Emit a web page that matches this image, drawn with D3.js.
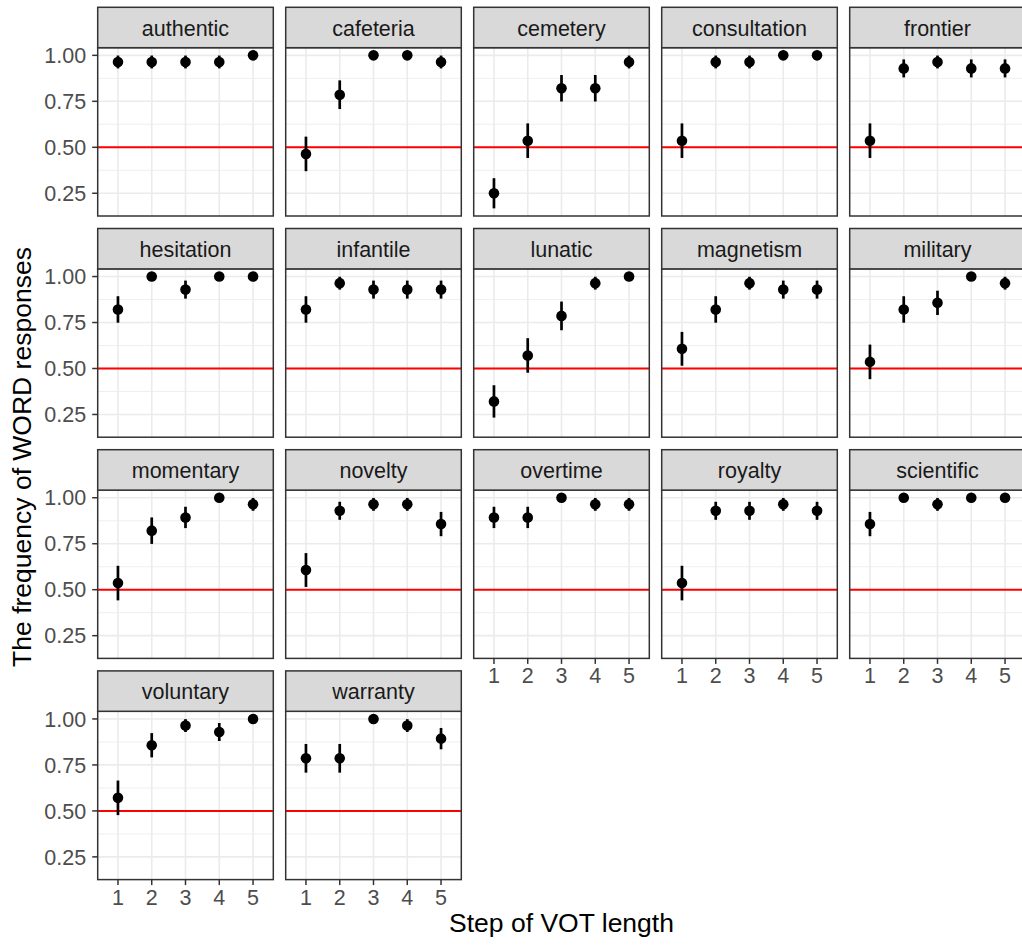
<!DOCTYPE html>
<html>
<head>
<meta charset="utf-8">
<script src="https://cdn.jsdelivr.net/npm/d3@7"></script>
<style>
  html, body { margin: 0; padding: 0; background: #fff; }
  svg { display: block; font-family: "Liberation Sans", Arial, Helvetica, sans-serif; }
</style>
</head>
<body>
<svg id="chart" width="1022" height="946"></svg>
<script>
// Items (one facet each), in facet order
const words = ["authentic", "cafeteria", "cemetery", "consultation", "frontier",
  "hesitation", "infantile", "lunatic", "magnetism", "military",
  "momentary", "novelty", "overtime", "royalty", "scientific",
  "voluntary", "warranty"];

// VOT continuum steps
const steps = [1, 2, 3, 4, 5];

// Proportion of WORD responses per step, one row per item
const proportions = [
  [0.964, 0.964, 0.964, 0.964, 1.000],
  [0.464, 0.786, 1.000, 1.000, 0.964],
  [0.250, 0.536, 0.821, 0.821, 0.964],
  [0.536, 0.964, 0.964, 1.000, 1.000],
  [0.536, 0.929, 0.964, 0.929, 0.929],
  [0.821, 1.000, 0.929, 1.000, 1.000],
  [0.821, 0.964, 0.929, 0.929, 0.929],
  [0.321, 0.571, 0.786, 0.964, 1.000],
  [0.607, 0.821, 0.964, 0.929, 0.929],
  [0.536, 0.821, 0.857, 1.000, 0.964],
  [0.536, 0.821, 0.893, 1.000, 0.964],
  [0.607, 0.929, 0.964, 0.964, 0.857],
  [0.893, 0.893, 1.000, 0.964, 0.964],
  [0.536, 0.929, 0.929, 0.964, 0.929],
  [0.857, 1.000, 0.964, 1.000, 1.000],
  [0.571, 0.857, 0.964, 0.929, 1.000],
  [0.786, 0.786, 1.000, 0.964, 0.893]
];

// Standard errors (error bar half-widths), same layout as proportions
const standardErrors = [
  [0.035, 0.035, 0.035, 0.035, 0.000],
  [0.094, 0.078, 0.000, 0.000, 0.035],
  [0.082, 0.094, 0.072, 0.072, 0.035],
  [0.094, 0.035, 0.035, 0.000, 0.000],
  [0.094, 0.049, 0.035, 0.049, 0.049],
  [0.072, 0.000, 0.049, 0.000, 0.000],
  [0.072, 0.035, 0.049, 0.049, 0.049],
  [0.088, 0.094, 0.078, 0.035, 0.000],
  [0.092, 0.072, 0.035, 0.049, 0.049],
  [0.094, 0.072, 0.066, 0.000, 0.035],
  [0.094, 0.072, 0.058, 0.000, 0.035],
  [0.092, 0.049, 0.035, 0.035, 0.066],
  [0.058, 0.058, 0.000, 0.035, 0.035],
  [0.094, 0.049, 0.049, 0.035, 0.049],
  [0.066, 0.000, 0.035, 0.000, 0.000],
  [0.094, 0.066, 0.035, 0.049, 0.000],
  [0.078, 0.078, 0.000, 0.035, 0.058]
];

const yTicks = [0.25, 0.50, 0.75, 1.00];
const yMinorTicks = [0.125, 0.375, 0.625, 0.875, 1.125];
const referenceLevel = 0.5;

const xTitle = "Step of VOT length";
const yTitle = "The frequency of WORD responses";

// ---- layout ----
const nCols = 5;
const panelLeft0 = 97.7, colStep = 188, panelW = 175.6;
const stripTop0 = 7.3, rowStep = 221.2, stripH = 40.4, panelH = 168.3;
const tickLen = 5.5;
const tickFont = 21.5, titleFont = 26.5;

const svg = d3.select("#chart");
svg.append("rect").attr("width", 1022).attr("height", 946).attr("fill", "#fff");

// shared y domain from the error-bar extent with 5% padding
const lows = proportions.flatMap((r, i) => r.map((p, j) => p - standardErrors[i][j]));
const highs = proportions.flatMap((r, i) => r.map((p, j) => p + standardErrors[i][j]));
const yLo = d3.min(lows), yHi = d3.max(highs);
const pad = (yHi - yLo) * 0.05;

const x = d3.scaleLinear().domain([0.4, 5.6]).range([0, panelW]);
const y = d3.scaleLinear().domain([yLo - pad, yHi + pad]).range([panelH, 0]);

words.forEach((word, i) => {
  const col = i % nCols, row = Math.floor(i / nCols);
  const left = panelLeft0 + col * colStep;
  const stripTop = stripTop0 + row * rowStep;
  const top = stripTop + stripH;
  const g = svg.append("g").attr("transform", `translate(${left},${top})`);

  // gridlines
  g.selectAll(".ymin").data(yMinorTicks.filter(v => v >= y.domain()[0] && v <= y.domain()[1]))
    .join("line").attr("x1", 0).attr("x2", panelW)
    .attr("y1", d => y(d)).attr("y2", d => y(d))
    .attr("stroke", "#EBEBEB").attr("stroke-width", 0.8);
  g.selectAll(".ymaj").data(yTicks).join("line")
    .attr("x1", 0).attr("x2", panelW)
    .attr("y1", d => y(d)).attr("y2", d => y(d))
    .attr("stroke", "#EBEBEB").attr("stroke-width", 1.6);
  g.selectAll(".xmaj").data(steps).join("line")
    .attr("x1", d => x(d)).attr("x2", d => x(d))
    .attr("y1", 0).attr("y2", panelH)
    .attr("stroke", "#EBEBEB").attr("stroke-width", 1.6);

  // 50% reference line
  g.append("line").attr("x1", 0).attr("x2", panelW)
    .attr("y1", y(referenceLevel)).attr("y2", y(referenceLevel))
    .attr("stroke", "#FF0000").attr("stroke-width", 2);

  const pts = steps.map((s, j) => ({ s, p: proportions[i][j], se: standardErrors[i][j] }));

  // error bars
  g.selectAll(".err").data(pts.filter(d => d.se > 0)).join("line")
    .attr("x1", d => x(d.s)).attr("x2", d => x(d.s))
    .attr("y1", d => y(d.p - d.se)).attr("y2", d => y(Math.min(d.p + d.se, 1)))
    .attr("stroke", "#000").attr("stroke-width", 2.7);

  // points
  g.selectAll(".pt").data(pts).join("circle")
    .attr("cx", d => x(d.s)).attr("cy", d => y(d.p)).attr("r", 5.3)
    .attr("fill", "#000");

  // panel border
  g.append("rect").attr("x", 0).attr("y", 0).attr("width", panelW).attr("height", panelH)
    .attr("fill", "none").attr("stroke", "#333333").attr("stroke-width", 1.5);

  // strip
  const sg = svg.append("g").attr("transform", `translate(${left},${stripTop})`);
  sg.append("rect").attr("width", panelW).attr("height", stripH)
    .attr("fill", "#D9D9D9").attr("stroke", "#333333").attr("stroke-width", 1.5);
  sg.append("text").attr("x", panelW / 2).attr("y", 28.4)
    .attr("text-anchor", "middle").attr("font-size", tickFont).attr("fill", "#1A1A1A")
    .text(word);

  // y axis on first column
  if (col === 0) {
    const ya = g.append("g");
    ya.selectAll("line").data(yTicks).join("line")
      .attr("x1", -tickLen).attr("x2", 0)
      .attr("y1", d => y(d)).attr("y2", d => y(d))
      .attr("stroke", "#333333").attr("stroke-width", 1.5);
    ya.selectAll("text").data(yTicks).join("text")
      .attr("x", -11.5).attr("y", d => y(d) + 7.7)
      .attr("text-anchor", "end").attr("font-size", tickFont).attr("fill", "#4D4D4D")
      .text(d => d3.format(".2f")(d));
  }

  // x axis on the lowest panel of each column
  if (i + nCols >= words.length) {
    const xa = g.append("g").attr("transform", `translate(0,${panelH})`);
    xa.selectAll("line").data(steps).join("line")
      .attr("x1", d => x(d)).attr("x2", d => x(d))
      .attr("y1", 0).attr("y2", tickLen)
      .attr("stroke", "#333333").attr("stroke-width", 1.5);
    xa.selectAll("text").data(steps).join("text")
      .attr("x", d => x(d)).attr("y", 25)
      .attr("text-anchor", "middle").attr("font-size", tickFont).attr("fill", "#4D4D4D")
      .text(d => d);
  }
});

// axis titles
svg.append("text")
  .attr("x", panelLeft0 + ((nCols - 1) * colStep + panelW) / 2).attr("y", 932)
  .attr("text-anchor", "middle").attr("font-size", titleFont).attr("fill", "#000")
  .text(xTitle);

svg.append("text")
  .attr("transform", "translate(31,457) rotate(-90)")
  .attr("text-anchor", "middle").attr("font-size", titleFont).attr("fill", "#000")
  .text(yTitle);
</script>
</body>
</html>
